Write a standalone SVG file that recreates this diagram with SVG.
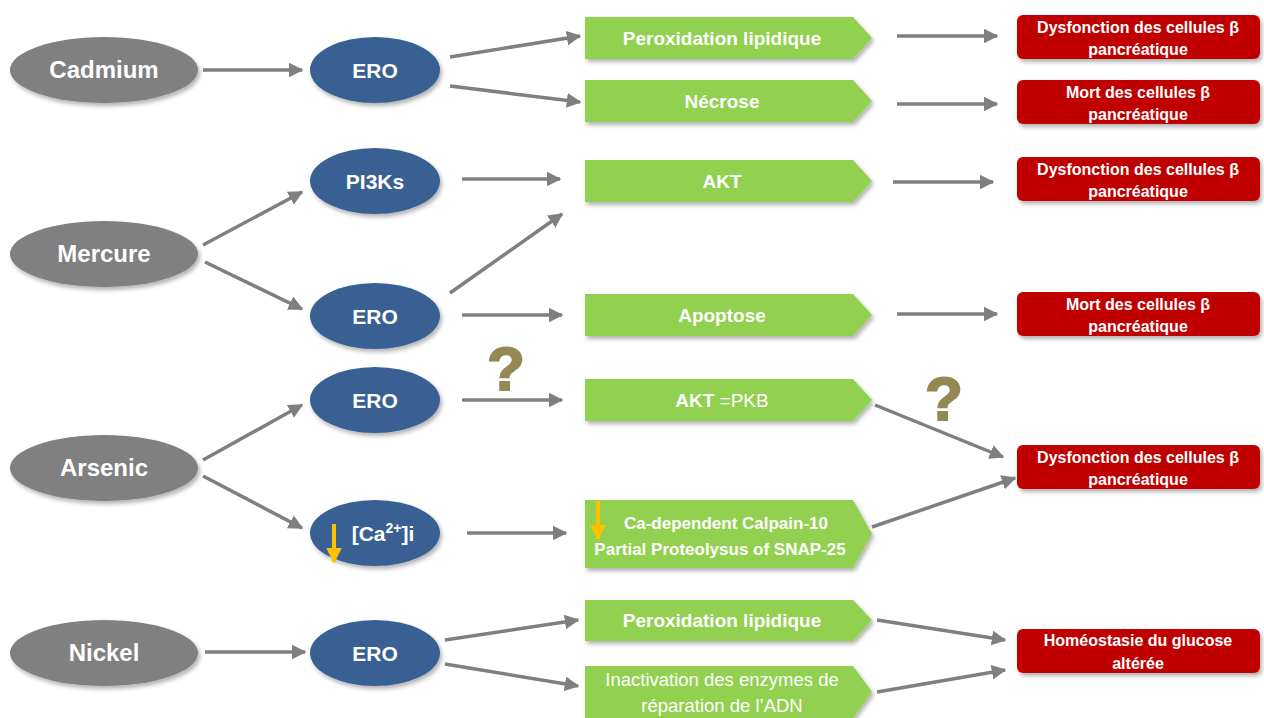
<svg xmlns="http://www.w3.org/2000/svg" width="1264" height="718" viewBox="0 0 1264 718">
<defs>
<filter id="sh" x="-10%" y="-20%" width="125%" height="150%">
<feDropShadow dx="2" dy="3" stdDeviation="2" flood-color="#000" flood-opacity="0.3"/>
</filter>
<marker id="ah" viewBox="0 0 10 10" refX="9" refY="5" markerWidth="4.2" markerHeight="4.2" orient="auto" markerUnits="strokeWidth">
<path d="M0,0 L10,5 L0,10 z" fill="#7f7f7f"/>
</marker>
<marker id="ya" viewBox="0 0 10 10" refX="9" refY="5" markerWidth="4" markerHeight="4" orient="auto" markerUnits="strokeWidth">
<path d="M0,0 L10,5 L0,10 z" fill="#ffc000"/>
</marker>
</defs>
<style>
.metal{fill:#808080;filter:url(#sh)}
.blue{fill:#376092;filter:url(#sh)}
.green{fill:#92d050;filter:url(#sh)}
.red{fill:#c00000;filter:url(#sh)}
text{font-family:"Liberation Sans",Arial,sans-serif;fill:#fff;text-anchor:middle;font-weight:bold}
.big{font-size:24px}
.mid{font-size:21px}
.gt{font-size:19px}
.ct{font-size:17px}
.nt{font-size:18.5px;font-weight:normal}
.rt{font-size:16px}
.conn line{stroke:#7f7f7f;stroke-width:3.5;marker-end:url(#ah)}
.q{font-family:"Liberation Sans",Arial,sans-serif;font-size:62px;font-weight:900;fill:#938953;stroke:#938953;stroke-width:2}
.ya{stroke:#ffc000;stroke-width:4;marker-end:url(#ya)}
</style>

<g id="connectors" class="conn">
<line x1="203" y1="70" x2="302" y2="70"/>
<line x1="450" y1="57" x2="580" y2="36"/>
<line x1="450" y1="86" x2="580" y2="102"/>
<line x1="897" y1="36" x2="997" y2="36"/>
<line x1="897" y1="104" x2="997" y2="104"/>
<line x1="203" y1="245" x2="302" y2="192"/>
<line x1="205" y1="262" x2="302" y2="309"/>
<line x1="462" y1="179" x2="560" y2="179"/>
<line x1="450" y1="293" x2="562" y2="214"/>
<line x1="462" y1="315" x2="562" y2="315"/>
<line x1="893" y1="182" x2="993" y2="182"/>
<line x1="897" y1="314" x2="997" y2="314"/>
<line x1="203" y1="460" x2="302" y2="405"/>
<line x1="203" y1="476" x2="302" y2="528"/>
<line x1="462" y1="400" x2="562" y2="400"/>
<line x1="467" y1="533" x2="566" y2="533"/>
<line x1="875" y1="405" x2="1003" y2="457"/>
<line x1="872" y1="527" x2="1015" y2="478"/>
<line x1="205" y1="652" x2="305" y2="652"/>
<line x1="445" y1="640" x2="578" y2="620"/>
<line x1="445" y1="664" x2="578" y2="686"/>
<line x1="877" y1="620" x2="1005" y2="640"/>
<line x1="877" y1="692" x2="1005" y2="670"/>
</g>

<!-- Cadmium row -->
<g id="cadmium"><ellipse class="metal" cx="104" cy="70" rx="94" ry="33"/><text class="big" x="104" y="78">Cadmium</text></g>
<g id="ero1"><ellipse class="blue" cx="375" cy="70" rx="65" ry="33"/><text class="mid" x="375" y="78">ERO</text></g>
<g id="perox1"><path class="green" d="M585,17 H853 L872,38 L853,59 H585 Z"/><text class="gt" x="722" y="45">Peroxidation lipidique</text></g>
<g id="necrose"><path class="green" d="M585,80 H853 L872,101 L853,122 H585 Z"/><text class="gt" x="722" y="108">Nécrose</text></g>
<g id="red1"><rect class="red" x="1017" y="15" width="243" height="44" rx="6"/><text class="rt" x="1138" y="33">Dysfonction des cellules β</text><text class="rt" x="1138" y="55">pancréatique</text></g>
<g id="red2"><rect class="red" x="1017" y="80" width="243" height="44" rx="6"/><text class="rt" x="1138" y="98">Mort  des cellules β</text><text class="rt" x="1138" y="120">pancréatique</text></g>

<!-- Mercure row -->
<g id="mercure"><ellipse class="metal" cx="104" cy="254" rx="94" ry="33"/><text class="big" x="104" y="262">Mercure</text></g>
<g id="pi3ks"><ellipse class="blue" cx="375" cy="181" rx="65" ry="33"/><text class="mid" x="375" y="189">PI3Ks</text></g>
<g id="ero2"><ellipse class="blue" cx="375" cy="316" rx="65" ry="33"/><text class="mid" x="375" y="324">ERO</text></g>
<g id="akt"><path class="green" d="M585,160 H853 L872,181 L853,202 H585 Z"/><text class="gt" x="722" y="188">AKT</text></g>
<g id="apoptose"><path class="green" d="M585,294 H853 L872,315 L853,336 H585 Z"/><text class="gt" x="722" y="322">Apoptose</text></g>
<g id="red3"><rect class="red" x="1017" y="157" width="243" height="44" rx="6"/><text class="rt" x="1138" y="175">Dysfonction des cellules β</text><text class="rt" x="1138" y="197">pancréatique</text></g>
<g id="red4"><rect class="red" x="1017" y="292" width="243" height="44" rx="6"/><text class="rt" x="1138" y="310">Mort  des cellules β</text><text class="rt" x="1138" y="332">pancréatique</text></g>

<!-- Arsenic row -->
<g id="arsenic"><ellipse class="metal" cx="104" cy="468" rx="94" ry="33"/><text class="big" x="104" y="476">Arsenic</text></g>
<g id="ero3"><ellipse class="blue" cx="375" cy="400" rx="65" ry="33"/><text class="mid" x="375" y="408">ERO</text></g>
<g id="ca"><ellipse class="blue" cx="375" cy="533" rx="65" ry="33"/><text class="mid" x="383" y="541">[Ca<tspan font-size="14" dy="-8">2+</tspan><tspan dy="8">]i</tspan></text>
<line class="ya" x1="334" y1="524" x2="334" y2="562"/></g>
<g id="aktpkb"><path class="green" d="M585,379 H853 L872,400 L853,421 H585 Z"/><text class="gt" x="722" y="407">AKT <tspan font-weight="normal">=PKB</tspan></text></g>
<g id="calpain"><path class="green" d="M585,500 H853 L872,534 L853,568 H585 Z"/><text class="ct" x="726" y="529">Ca-dependent Calpain-10</text><text class="ct" x="720" y="555">Partial Proteolysus of SNAP-25</text>
<line class="ya" x1="598" y1="501" x2="598" y2="539"/></g>
<g id="red5"><rect class="red" x="1017" y="445" width="243" height="44" rx="6"/><text class="rt" x="1138" y="463">Dysfonction des cellules β</text><text class="rt" x="1138" y="485">pancréatique</text></g>

<!-- Nickel row -->
<g id="nickel"><ellipse class="metal" cx="104" cy="653" rx="94" ry="33"/><text class="big" x="104" y="661">Nickel</text></g>
<g id="ero4"><ellipse class="blue" cx="375" cy="653" rx="65" ry="33"/><text class="mid" x="375" y="661">ERO</text></g>
<g id="perox2"><path class="green" d="M585,600 H853 L872,620 L853,641 H585 Z"/><text class="gt" x="722" y="627">Peroxidation lipidique</text></g>
<g id="inact"><path class="green" d="M585,666 H853 L872,692 L853,718 H585 Z"/><text class="nt" x="722" y="686">Inactivation des enzymes de</text><text class="nt" x="722" y="712">réparation de l’ADN</text></g>
<g id="red6"><rect class="red" x="1017" y="629" width="243" height="44" rx="6"/><text class="rt" x="1138" y="646">Homéostasie du glucose</text><text class="rt" x="1138" y="669">altérée</text></g>

<g id="questions">
<text class="q" x="506" y="390">?</text>
<text class="q" x="944" y="420">?</text>
</g>
</svg>
